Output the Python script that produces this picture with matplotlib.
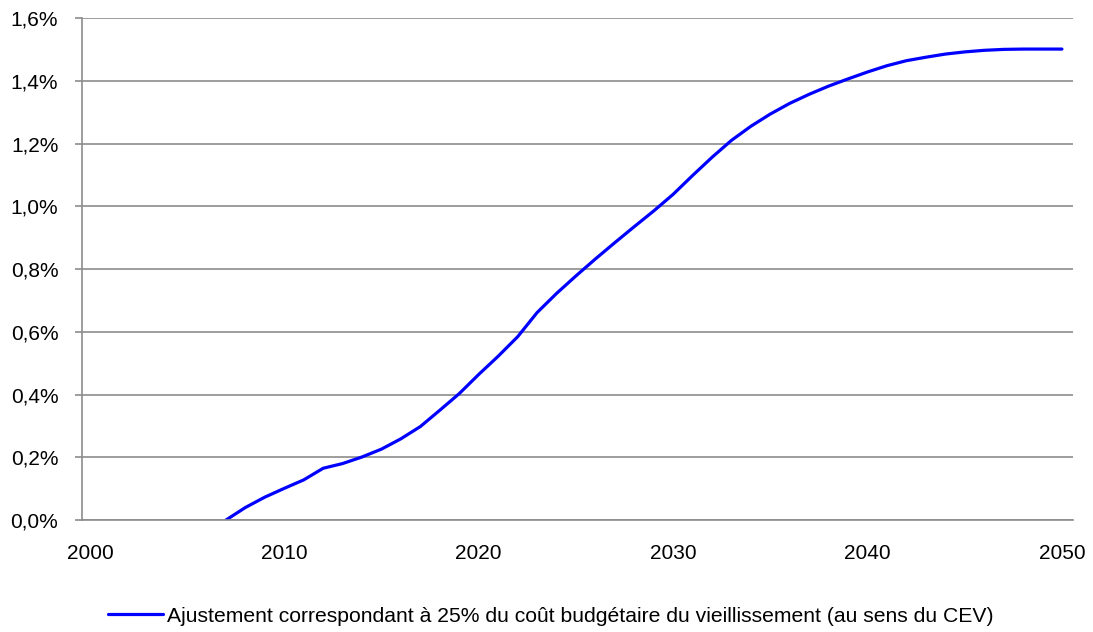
import matplotlib.pyplot as plt
from matplotlib.ticker import FuncFormatter

plt.rcParams['font.family'] = ['Liberation Sans', 'DejaVu Sans']

# Valeurs (en %)
years = list(range(2007, 2051))
ajustement = [0.000, 0.040, 0.073, 0.101, 0.128, 0.165, 0.180, 0.201, 0.226, 0.259,
              0.298, 0.350, 0.403, 0.464, 0.522, 0.584, 0.661, 0.722, 0.778, 0.832,
              0.884, 0.935, 0.985, 1.038, 1.098, 1.156, 1.210, 1.255, 1.294, 1.328,
              1.357, 1.383, 1.406, 1.428, 1.448, 1.464, 1.475, 1.485, 1.492, 1.497,
              1.500, 1.501, 1.501, 1.501]
x_ticks = [2000, 2010, 2020, 2030, 2040, 2050]
y_ticks = [0.0, 0.2, 0.4, 0.6, 0.8, 1.0, 1.2, 1.4, 1.6]
label = "Ajustement correspondant à 25% du coût budgétaire du vieillissement (au sens du CEV)"

fig = plt.figure(figsize=(10.93, 6.32), dpi=100)
ax = fig.add_axes([0.075, 0.1772, 0.9067, 0.7943])

ax.plot(years, ajustement, color='#0000FF', linewidth=2.3, solid_capstyle='round', label=label)

ax.set_xlim(1999.59, 2050.57)
ax.set_ylim(0, 1.6)
ax.set_xticks(x_ticks)
ax.set_yticks(y_ticks)
ax.yaxis.set_major_formatter(FuncFormatter(lambda v, p: ('%.1f%%' % v).replace('.', ',')))

ax.grid(axis='y', color='#8c8c8c', linewidth=1.2)
ax.set_axisbelow(True)
for s in ['top', 'right']:
    ax.spines[s].set_visible(False)
for s in ['left', 'bottom']:
    ax.spines[s].set_color('#8c8c8c')
    ax.spines[s].set_linewidth(1.2)

ax.tick_params(axis='x', length=0, pad=17, labelsize=15)
ax.tick_params(axis='y', length=5, color='#8c8c8c', width=1.2, pad=12, labelsize=15)

fig.legend(loc='center', bbox_to_anchor=(0.504, 1 - 616 / 632), frameon=False,
           fontsize=15.2, handlelength=2.6, handletextpad=0.2)

plt.savefig('out.png', dpi=100)
